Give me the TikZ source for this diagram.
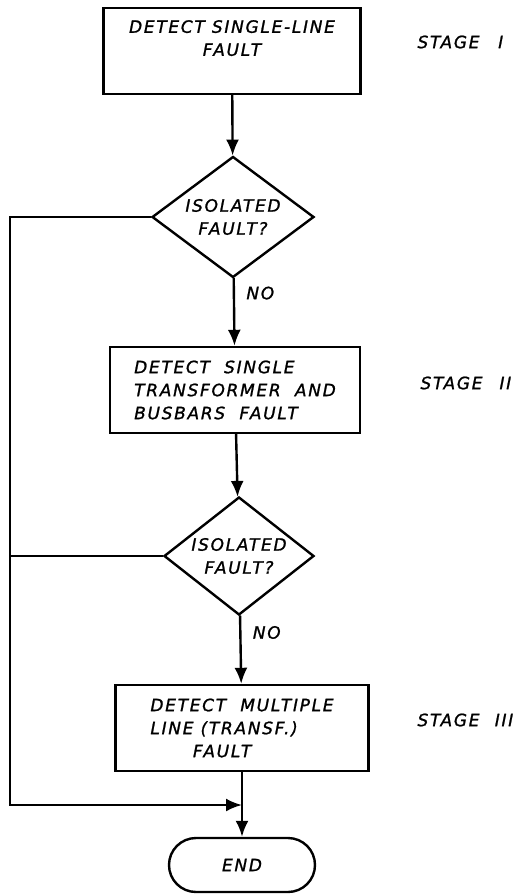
\documentclass[tikz,border=0pt]{standalone}
\usepackage{fontspec}
\usepackage{tikz}
\usetikzlibrary{shapes.geometric,arrows.meta}
\newfontfamily\handfont[LetterSpace=10,FakeBold=1.2]{DejaVu Sans}

\begin{document}
\begin{tikzpicture}[x=1pt, y=-1pt, line width=2.4pt, >={Latex[length=16pt,width=13pt]},
    every node/.style={font=\handfont\itshape\fontsize{17}{23}\selectfont},
    procbox/.style={draw, rectangle, minimum height=86pt, inner sep=0pt},
    decision/.style={draw, diamond, aspect=1.34, inner sep=-8pt},
    stop/.style={draw, rectangle, rounded corners=27pt, minimum width=146pt, minimum height=54pt}]
    \useasboundingbox (0,0) rectangle (530,896);
    \node[procbox, minimum width=257pt, align=center] (detect1) at (232,51) {DETECT SINGLE-LINE\\FAULT\\[3pt]\mbox{}};
    \node[decision, minimum width=162pt, minimum height=121pt, align=center] (dec1) at (233,217) {ISOLATED\\FAULT?};
    \node[procbox, minimum width=250pt, align=left] (detect2) at (235,390) {DETECT\ \ SINGLE\\TRANSFORMER\ \ AND\\BUSBARS\ \ FAULT};
    \node[decision, minimum width=150pt, minimum height=118pt, align=center] (dec2) at (239,556) {ISOLATED\\FAULT?};
    \node[procbox, minimum width=253pt, align=left] (detect3) at (242,728) {DETECT\ \ MULTIPLE\\LINE (TRANSF.)\\\hspace{2.5em}FAULT};
    \node[stop] (finish) at (242,865) {END};
    \node[anchor=west] (stage1) at (413,42) {STAGE\hspace{1.1em}I};
    \node[anchor=west] (stage2) at (416,383) {STAGE\hspace{1em}II};
    \node[anchor=west] (stage3) at (413,720) {STAGE\hspace{0.9em}III};
    \coordinate (bus) at (10,805);
    \coordinate (join) at (242,805);
    \draw[->] (detect1) -- (dec1);
    \draw[->] (dec1) -- node[right=8pt, pos=0.22] {NO} (detect2);
    \draw[->] (detect2) -- (dec2);
    \draw[->] (dec2) -- node[right=8pt, pos=0.25] {NO} (detect3);
    \draw[->] (dec1.west) -| (bus) -- (join);
    \draw (dec2.west) -- (dec2.west -| bus);
    \draw (detect3) -- (join);
    \draw[->] (join) -- (finish);
\end{tikzpicture}
\end{document}
